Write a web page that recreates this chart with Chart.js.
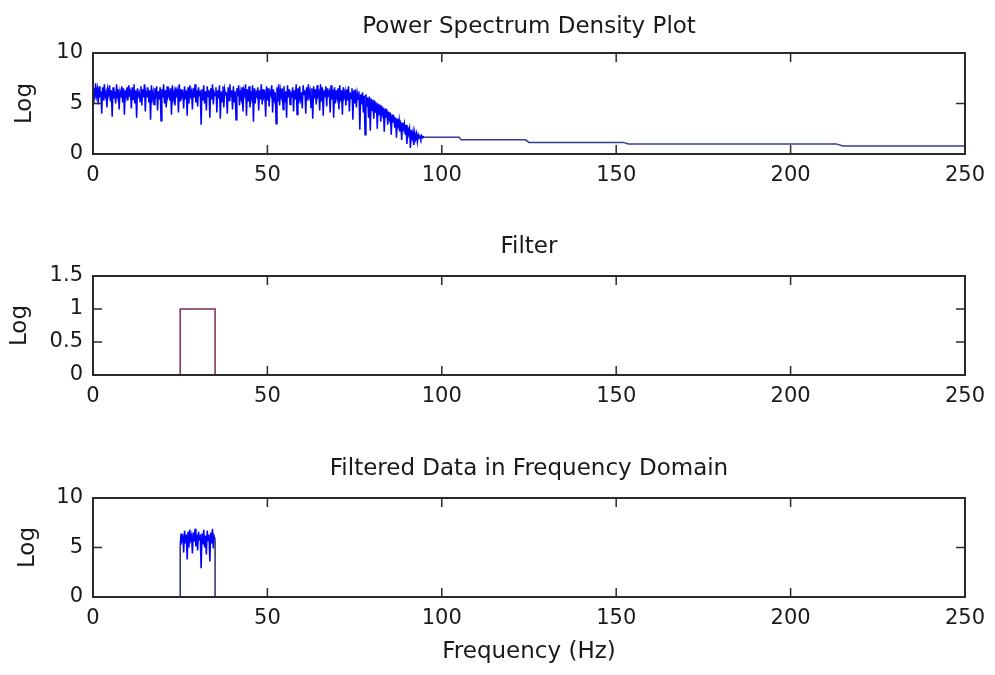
<!DOCTYPE html>
<html>
<head>
<meta charset="utf-8">
<script src="https://cdn.jsdelivr.net/npm/chart.js@4.4.0/dist/chart.umd.min.js"></script>
<style>
body { margin: 0; background: #fff; }
.panel { position: absolute; left: 0; width: 995px; height: 225px; }
</style>
</head>
<body>
<div class="panel" style="top:0"><canvas id="psdChart"></canvas></div>
<div class="panel" style="top:225px"><canvas id="filterChart"></canvas></div>
<div class="panel" style="top:450px"><canvas id="filteredChart"></canvas></div>
<script>

// x ticks shared by all three panels
var freqTicks = [0, 50, 100, 150, 200, 250];

// PSD, noisy part: one value every 0.25 Hz from 0 to 94.75 Hz
var psdStart = 0;
var psdStep = 0.25;
var psdNoise = [
    // 0 - 10 Hz
    5.0, 6.5, 5.4, 7.0, 5.8, 6.4, 4.9, 6.7, 5.6, 6.2,
    4.0, 6.6, 5.3, 6.9, 5.7, 6.1, 4.6, 6.4, 5.9, 6.8,
    5.2, 6.3, 3.7, 6.6, 5.5, 6.2, 5.0, 6.9, 5.8, 6.4,
    4.4, 6.1, 5.6, 6.7, 5.1, 6.5, 3.9, 6.3, 5.7, 6.6,
    // 10 - 20 Hz
    5.3, 6.8, 5.9, 6.2, 4.5, 6.6, 5.4, 6.9, 5.0, 6.3,
    3.6, 6.5, 5.8, 6.1, 5.2, 6.7, 4.8, 6.4, 5.6, 6.9,
    4.2, 6.2, 5.7, 6.6, 5.1, 6.3, 3.4, 6.8, 5.5, 6.1,
    4.9, 6.5, 5.9, 6.7, 4.3, 6.2, 5.4, 6.6, 3.3, 6.4,
    // 20 - 30 Hz
    5.6, 6.9, 5.0, 6.3, 4.6, 6.7, 5.8, 6.2, 5.3, 6.5,
    3.9, 6.8, 5.5, 6.1, 4.8, 6.6, 5.9, 6.3, 4.1, 6.9,
    5.2, 6.4, 5.7, 6.0, 4.5, 6.7, 5.4, 6.3, 3.8, 6.6,
    5.0, 6.8, 5.8, 6.2, 4.4, 6.5, 5.6, 6.9, 5.1, 6.3,
    // 30 - 40 Hz
    4.7, 6.6, 5.9, 6.1, 2.9, 6.4, 5.3, 6.8, 5.0, 6.2,
    4.3, 6.7, 5.7, 6.3, 3.6, 6.5, 5.4, 6.9, 4.9, 6.1,
    5.8, 6.6, 4.1, 6.3, 5.5, 6.8, 3.5, 6.2, 5.2, 6.7,
    4.6, 6.4, 5.9, 6.0, 4.0, 6.6, 5.3, 6.9, 5.6, 6.3,
    // 40 - 50 Hz
    4.4, 6.7, 5.1, 6.2, 3.4, 6.5, 5.7, 6.8, 4.8, 6.1,
    5.5, 6.6, 4.2, 6.3, 5.9, 6.9, 3.8, 6.4, 5.2, 6.7,
    4.6, 6.2, 5.6, 6.8, 3.2, 6.5, 5.0, 6.1, 5.8, 6.6,
    4.3, 6.3, 5.4, 6.9, 4.9, 6.4, 5.7, 6.0, 3.7, 6.7,
    // 50 - 60 Hz
    5.3, 6.5, 4.7, 6.2, 5.9, 6.8, 4.1, 6.4, 5.5, 6.1,
    3.0, 6.6, 5.2, 6.9, 4.8, 6.3, 5.7, 6.5, 4.4, 6.7,
    5.1, 6.2, 3.6, 6.8, 5.6, 6.4, 4.9, 6.0, 5.8, 6.6,
    4.2, 6.3, 5.4, 6.9, 3.9, 6.5, 5.0, 6.7, 5.5, 6.1,
    // 60 - 70 Hz
    4.5, 6.8, 5.9, 6.3, 4.0, 6.6, 5.3, 6.9, 5.7, 6.2,
    4.6, 6.5, 3.5, 6.7, 5.5, 6.4, 4.9, 6.8, 5.8, 6.1,
    4.3, 6.9, 5.2, 6.6, 3.8, 6.3, 5.6, 6.7, 4.7, 6.5,
    5.9, 6.2, 4.1, 6.8, 5.4, 6.4, 3.6, 6.6, 5.0, 6.3,
    // 70 - 80 Hz
    5.6, 6.5, 4.4, 6.8, 5.2, 6.3, 3.9, 6.6, 5.7, 6.2,
    4.8, 6.4, 5.3, 6.7, 4.2, 6.1, 5.5, 6.5, 3.4, 6.3,
    5.0, 6.4, 4.6, 6.0, 5.4, 6.2, 2.4, 5.9, 4.9, 6.1,
    4.1, 5.8, 1.9, 5.9, 4.7, 5.6, 3.6, 5.7, 2.3, 5.5,
    // 80 - 90 Hz
    4.3, 5.4, 3.5, 5.3, 4.1, 5.1, 2.5, 5.0, 3.9, 4.9,
    3.2, 4.8, 4.0, 4.6, 2.2, 4.5, 3.6, 4.4, 2.9, 4.2,
    3.5, 4.1, 1.9, 3.9, 3.1, 3.8, 2.6, 3.6, 1.6, 3.5,
    2.8, 3.4, 2.2, 3.2, 1.4, 3.1, 2.5, 3.0, 1.9, 2.9,
    // 90 - 95 Hz
    1.0, 2.7, 2.0, 2.5, 0.6, 2.4, 1.6, 2.2, 0.9, 2.1,
    1.5, 2.0, 1.2, 1.9, 1.6, 1.8, 1.5, 1.8, 1.6, 1.7
];

// PSD, flat tail above 95 Hz
var tailFreq = [95, 105, 105.5, 124, 125, 152, 153.5, 213, 215, 250];
var tailLog  = [1.65, 1.65, 1.4, 1.4, 1.15, 1.15, 1.0, 1.0, 0.8, 0.8];

// band-pass filter
var filterFreq = [0, 25, 25, 35, 35, 250];
var filterGain = [0, 0, 1, 1, 0, 0];

// filtered data: zero outside the band, PSD inside (25..35 Hz every 0.25 Hz)
var filteredEdgeFreq = [0, 25, 35, 250];
var filteredEdgeLog  = [0, 0, 0, 0];
var bandStart = 25;
var bandStep = 0.25;
var bandLog = [
    5.2, 6.4, 5.7, 6.0, 4.5, 6.7, 5.4, 6.3, 3.8, 6.6,
    5.0, 6.8, 5.8, 6.2, 4.4, 6.5, 5.6, 6.9, 5.1, 6.3,
    4.7, 6.6, 5.9, 6.1, 2.9, 6.4, 5.3, 6.8, 5.0, 6.2,
    4.3, 6.7, 5.7, 6.3, 3.6, 6.5, 5.4, 6.9, 4.9, 6.1,
    5.8
];

Chart.defaults.font.family = "'DejaVu Sans'";
Chart.defaults.color = '#1a1a1a';

var psdPoints = psdNoise.map(function(v, i) { return {x: psdStart + i * psdStep, y: v}; })
    .concat(tailFreq.map(function(f, i) { return {x: f, y: tailLog[i]}; }));

var filterPoints = filterFreq.map(function(f, i) { return {x: f, y: filterGain[i]}; });

var filteredPoints = [
    {x: filteredEdgeFreq[0], y: filteredEdgeLog[0]},
    {x: filteredEdgeFreq[1], y: filteredEdgeLog[1]}
].concat(bandLog.map(function(v, i) { return {x: bandStart + i * bandStep, y: v}; }))
 .concat([
    {x: filteredEdgeFreq[2], y: filteredEdgeLog[2]},
    {x: filteredEdgeFreq[3], y: filteredEdgeLog[3]}
]);

// matlab style box with inward ticks on all four sides
var matlabBox = {
    id: 'matlabBox',
    afterDraw: function(chart) {
        var a = chart.chartArea, ctx = chart.ctx;
        var xs = chart.scales.x, ys = chart.scales.y;
        ctx.save();
        ctx.strokeStyle = '#2a2a2a';
        ctx.lineWidth = 1.5;
        ctx.beginPath();
        xs.ticks.forEach(function(t) {
            var px = xs.getPixelForValue(t.value);
            ctx.moveTo(px, a.bottom); ctx.lineTo(px, a.bottom - 9);
            ctx.moveTo(px, a.top); ctx.lineTo(px, a.top + 9);
        });
        ys.ticks.forEach(function(t) {
            var py = ys.getPixelForValue(t.value);
            ctx.moveTo(a.left, py); ctx.lineTo(a.left + 9, py);
            ctx.moveTo(a.right, py); ctx.lineTo(a.right - 9, py);
        });
        ctx.stroke();
        ctx.lineWidth = 2;
        ctx.strokeRect(a.left, a.top, a.right - a.left, a.bottom - a.top);
        ctx.restore();
    }
};

function makeOptions(cfg) {
    return {
        responsive: true,
        maintainAspectRatio: false,
        animation: false,
        layout: { padding: { left: 0, right: 30, top: 0, bottom: 0 } },
        plugins: {
            legend: { display: false },
            tooltip: { enabled: false },
            title: {
                display: true,
                text: cfg.title,
                fullSize: false,
                color: '#1a1a1a',
                font: { size: 23, weight: 'normal', lineHeight: 1 },
                padding: { top: cfg.titleTop, bottom: cfg.titleBottom }
            }
        },
        scales: {
            x: {
                type: 'linear',
                min: 0,
                max: 250,
                afterBuildTicks: function(scale) {
                    scale.ticks = freqTicks.map(function(v) { return {value: v}; });
                },
                grid: { display: false, drawTicks: false },
                border: { display: false },
                ticks: { padding: 9, font: { size: 21 }, color: '#1a1a1a', maxRotation: 0 },
                title: {
                    display: !!cfg.xTitle,
                    text: cfg.xTitle || '',
                    font: { size: 23 },
                    color: '#1a1a1a',
                    padding: { top: 0, bottom: 9 }
                },
                afterFit: function(scale) { scale.height = cfg.xHeight; }
            },
            y: {
                min: 0,
                max: cfg.yMax,
                ticks: {
                    stepSize: cfg.yStep,
                    padding: 10,
                    font: { size: 21 },
                    color: '#1a1a1a',
                    callback: function(v) { return String(v); }
                },
                grid: { display: false, drawTicks: false },
                border: { display: false },
                title: {
                    display: true,
                    text: 'Log',
                    font: { size: 23 },
                    color: '#1a1a1a',
                    padding: { top: cfg.yTitlePad, bottom: 0 }
                },
                afterFit: function(scale) { scale.width = 93; }
            }
        }
    };
}

new Chart(document.getElementById('psdChart'), {
    type: 'line',
    data: {
        datasets: [{
            data: psdPoints,
            borderColor: '#0000ff',
            borderWidth: 1.5,
            pointRadius: 0,
            tension: 0,
            segment: {
                borderColor: function(ctx) {
                    return ctx.p0.parsed.x >= tailFreq[0] ? '#3a3a96' : '#0000ff';
                }
            }
        }]
    },
    options: makeOptions({
        title: 'Power Spectrum Density Plot', titleTop: 16, titleBottom: 14,
        xHeight: 71, yMax: 10, yStep: 5, yTitlePad: 11
    }),
    plugins: [matlabBox]
});

new Chart(document.getElementById('filterChart'), {
    type: 'line',
    data: {
        datasets: [{
            data: filterPoints,
            borderColor: '#7a2c52',
            borderWidth: 1.5,
            pointRadius: 0,
            tension: 0
        }]
    },
    options: makeOptions({
        title: 'Filter', titleTop: 11, titleBottom: 17,
        xHeight: 75, yMax: 1.5, yStep: 0.5, yTitlePad: 6
    }),
    plugins: [matlabBox]
});

new Chart(document.getElementById('filteredChart'), {
    type: 'line',
    data: {
        datasets: [{
            data: filteredPoints,
            borderColor: '#0000ff',
            borderWidth: 1.5,
            pointRadius: 0,
            tension: 0,
            segment: {
                borderColor: function(ctx) {
                    var flat = ctx.p0.parsed.y === 0 && ctx.p1.parsed.y === 0;
                    var edge = ctx.p0.parsed.x === ctx.p1.parsed.x;
                    return (flat || edge) ? '#2e2e66' : '#0000ff';
                }
            }
        }]
    },
    options: makeOptions({
        title: 'Filtered Data in Frequency Domain', titleTop: 8, titleBottom: 17,
        xHeight: 78, yMax: 10, yStep: 5, yTitlePad: 14, xTitle: 'Frequency (Hz)'
    }),
    plugins: [matlabBox]
});

</script>
</body>
</html>
